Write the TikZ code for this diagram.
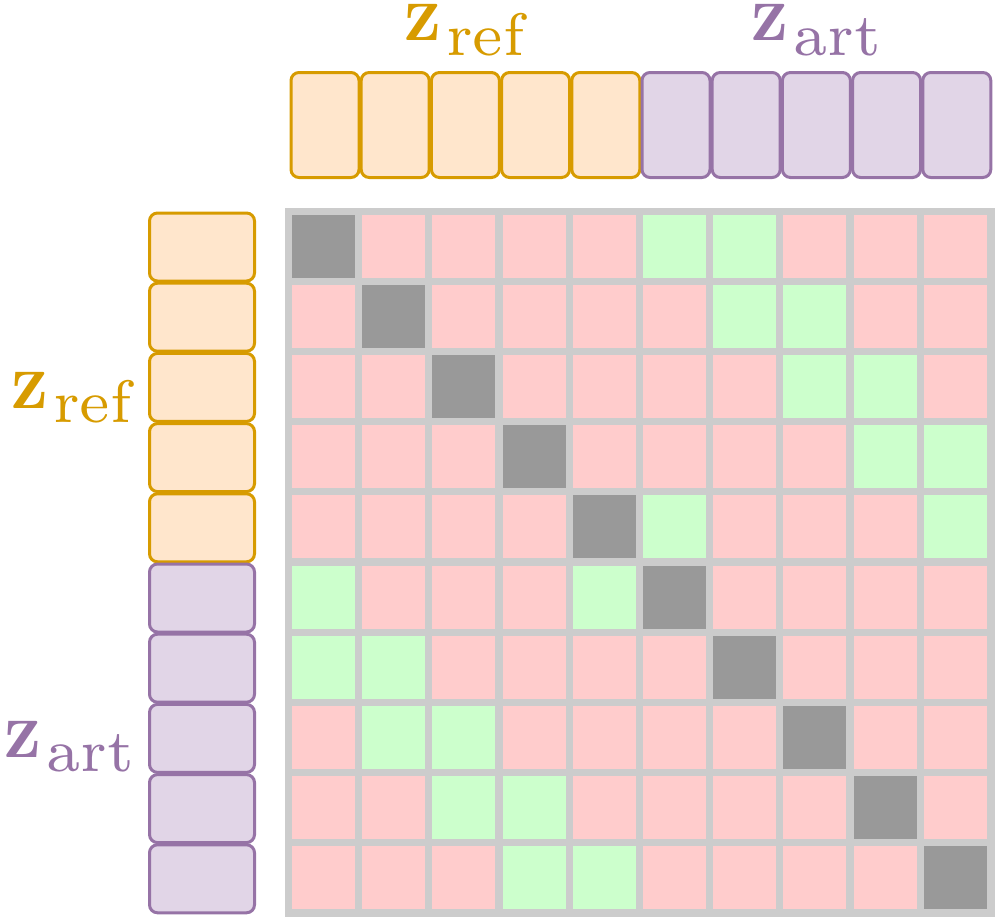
\documentclass[tikz,border=0pt]{standalone}
\usepackage{fontspec}
\newfontfamily\subfont{lmroman7-regular.otf}
\definecolor{orfill}{HTML}{FFE6CC}
\definecolor{orline}{HTML}{D79B00}
\definecolor{pufill}{HTML}{E1D5E7}
\definecolor{puline}{HTML}{9673A6}
\definecolor{pinkc}{HTML}{FFCCCC}
\definecolor{greenc}{HTML}{CCFFCC}
\definecolor{darkc}{HTML}{999999}
\definecolor{gridc}{HTML}{CCCCCC}
\newcommand{\vlab}[1]{\scalebox{1}[1.1]{\textbf{z}}\kern5pt\raisebox{-14pt}{\subfont\fontsize{60}{64}\selectfont #1}}
\begin{document}
\begin{tikzpicture}[x=1pt,y=-1pt,
  vbox/.style={draw, rectangle, rounded corners=8pt, line width=3pt, inner sep=0pt},
  topbox/.style={vbox, minimum width=68pt, minimum height=105pt},
  leftbox/.style={vbox, minimum width=105pt, minimum height=68pt},
  refbox/.style={draw=orline, fill=orfill},
  artbox/.style={draw=puline, fill=pufill},
  cell/.style={rectangle, draw=none, inner sep=0pt, minimum size=63pt},
  lab/.style={inner sep=0pt, font=\fontsize{74}{78}\selectfont, anchor=base west}]
\useasboundingbox (0,0) rectangle (997,918);
% top vectors
\foreach \i in {0,...,9}{
  \ifnum\i<5 \def\st{refbox}\else\def\st{artbox}\fi
  \node[topbox, \st] (t\i) at ({325+70.2*\i},125) {};
  \node[leftbox, \st] (l\i) at (202,{247+70.2*\i}) {};
}
% grid
\node[rectangle, fill=gridc, inner sep=0pt, minimum width=710pt, minimum height=709pt] (grid) at (640,562) {};
\foreach \r/\ga/\gb in {0/5/6,1/6/7,2/7/8,3/8/9,4/5/9,5/0/4,6/0/1,7/1/2,8/2/3,9/3/4}{
  \foreach \c in {0,...,9}{
    \ifnum\c=\r \def\cc{darkc}\else\ifnum\c=\ga \def\cc{greenc}\else\ifnum\c=\gb \def\cc{greenc}\else\def\cc{pinkc}\fi\fi\fi
    \node[cell, fill=\cc] (c\r-\c) at ({323.5+70.2*\c},{246+70.2*\r}) {};
  }
}
% labels
\node[lab, text=orline] (tref) at (404,41) {\vlab{ref}};
\node[lab, text=puline] (tart) at (751,41) {\vlab{art}};
\node[lab, text=orline] (lref) at (11,408) {\vlab{ref}};
\node[lab, text=puline] (lart) at (4,757) {\vlab{art}};
\end{tikzpicture}
\end{document}
